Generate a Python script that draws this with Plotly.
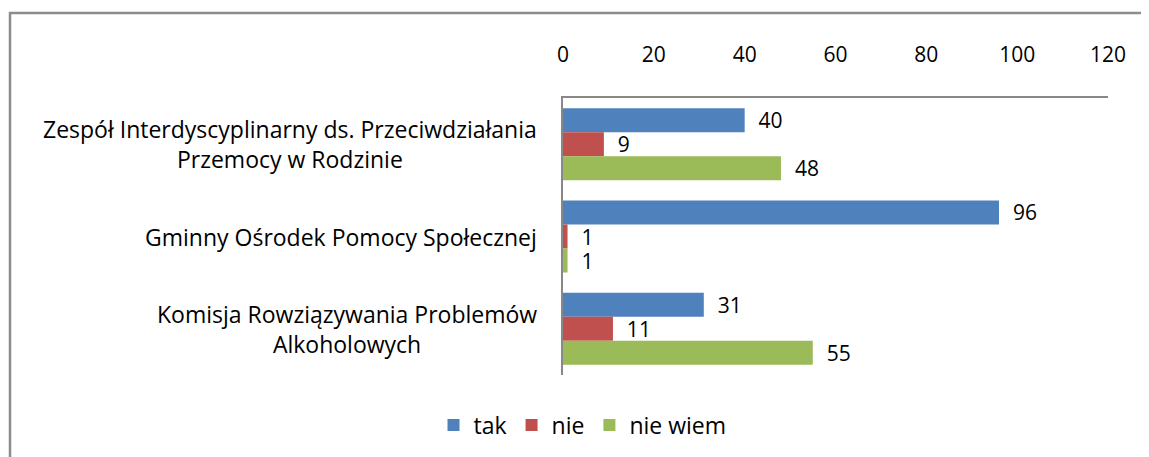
import plotly.graph_objects as go

categories = [
    "Zespół Interdyscyplinarny ds. Przeciwdziałania<br>Przemocy w Rodzinie",
    "Gminny Ośrodek Pomocy Społecznej",
    "Komisja Rowziązywania Problemów<br>Alkoholowych",
]
series_names = ["tak", "nie", "nie wiem"]
tak = [40, 96, 31]
nie = [9, 1, 11]
nie_wiem = [48, 1, 55]
colors = ["#4F81BD", "#C0504D", "#9BBB59"]
x_ticks = [0, 20, 40, 60, 80, 100, 120]

FONT = "Open Sans"
fig = go.Figure()
for name, vals, col in zip(series_names, [tak, nie, nie_wiem], colors):
    fig.add_trace(go.Bar(
        y=categories, x=vals, name=name, orientation="h",
        marker=dict(color=col, line=dict(width=0)),
        text=["  " + str(v) for v in vals], textposition="outside",
        textfont=dict(family=FONT, size=21, color="black"),
        constraintext="none",
        cliponaxis=False,
    ))

for c in categories:
    fig.add_annotation(
        x=0, xref="paper", y=c, yref="y", text=c, showarrow=False,
        xanchor="right", xshift=-24, align="center",
        font=dict(family=FONT, size=23, color="black"),
    )

# page body has an 8px offset, so everything is placed 8px up/left
W, H = 1149, 457
L, T = 555, 90
R = W - 1100
B = H - 367
pw, ph = W - L - R, H - T - B
fig.add_shape(
    type="rect", xref="paper", yref="paper",
    x0=(2 - L) / pw, x1=(1139 - L) / pw,
    y0=(H - B - 480) / ph, y1=(H - B - 5) / ph,
    line=dict(color="#8c8c8c", width=2.5), fillcolor="rgba(0,0,0,0)", layer="below",
)

fig.update_layout(
    width=W, height=H,
    margin=dict(l=L, r=R, t=T, b=B),
    plot_bgcolor="white", paper_bgcolor="white",
    barmode="group", bargap=0.22, bargroupgap=0,
    font=dict(family=FONT, size=21, color="black"),
    showlegend=True,
    legend=dict(orientation="h", xref="container", yref="container",
                x=0.5, y=0.0875, xanchor="center", yanchor="middle",
                font=dict(family=FONT, size=23), traceorder="normal",
                itemwidth=30),
    xaxis=dict(range=[0, 120], tickvals=x_ticks, side="top", showgrid=False,
               showline=True, linecolor="#888888", linewidth=1.5,
               ticks="", ticklabelstandoff=26, zeroline=False,
               tickfont=dict(family=FONT, size=21)),
    yaxis=dict(autorange="reversed", showticklabels=False, showgrid=False,
               showline=True, linecolor="#888888", linewidth=1.5, ticks=""),
)
fig.write_html("out.html")
